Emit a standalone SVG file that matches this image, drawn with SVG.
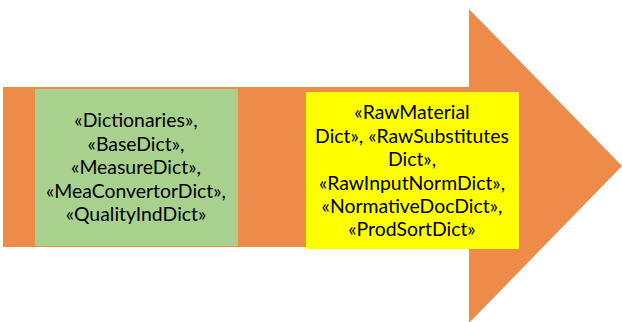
<svg xmlns="http://www.w3.org/2000/svg" width="622" height="322" viewBox="0 0 622 322">
<style>
.t{font-family:Lato,"Open Sans","Liberation Sans",sans-serif;font-size:19.4px;fill:#000;text-anchor:middle}
</style>
<rect width="622" height="322" fill="#fff"/>
<g id="arrow">
<polygon points="3,87 469,87 469,9 622,166 469,323 469,247 3,247" fill="#EF8B48"/>
</g>
<g id="node-dictionaries">
<rect x="35" y="89" width="203" height="157" fill="#A9D18E"/>
<text class="t" x="136" y="127">«Dictionaries»,</text>
<text class="t" x="136" y="151">«BaseDict»,</text>
<text class="t" x="136" y="174">«MeasureDict»,</text>
<text class="t" x="136" y="198">«MeaConvertorDict»,</text>
<text class="t" x="136" y="221">«QualityIndDict»</text>
</g>
<g id="node-raw">
<rect x="306" y="92" width="213" height="157" fill="#FFFF00"/>
<text class="t" x="412" y="119">«RawMaterial</text>
<text class="t" x="412" y="143">Dict», «RawSubstitutes</text>
<text class="t" x="412" y="166">Dict»,</text>
<text class="t" x="412" y="190">«RawInputNormDict»,</text>
<text class="t" x="412" y="213">«NormativeDocDict»,</text>
<text class="t" x="412" y="236">«ProdSortDict»</text>
</g>
<g id="connectors"></g>
</svg>
